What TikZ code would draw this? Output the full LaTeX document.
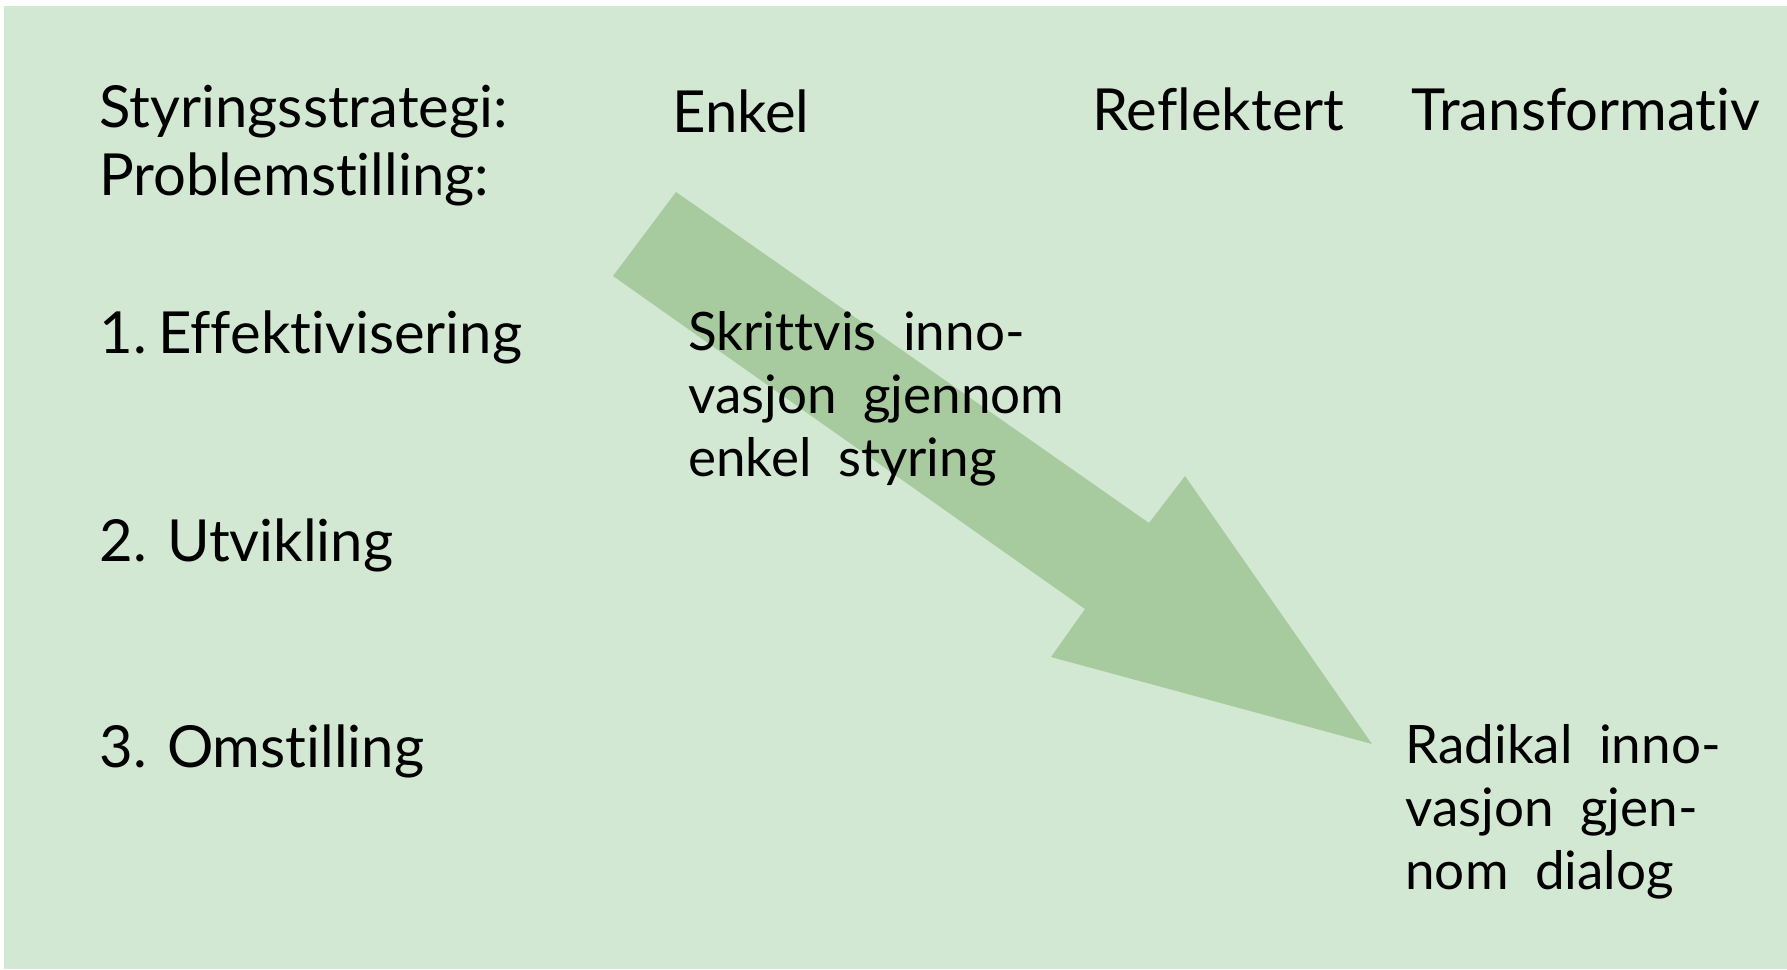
\documentclass[tikz,border=0pt]{standalone}
\usepackage{fontspec}
\setmainfont{Lato}[Ligatures={NoCommon,NoRare,NoDiscretionary}]
\definecolor{bggreen}{RGB}{211,232,211}
\definecolor{arrowgreen}{RGB}{168,202,159}
\newcommand\wsp{\hspace{0.5em}}
\tikzset{
  head/.style={anchor=base west, inner sep=0pt, font=\fontsize{29pt}{34pt}\selectfont},
  body/.style={anchor=base west, inner sep=0pt, align=left,
    font=\fontsize{26.5pt}{31.5pt}\selectfont}
}
\begin{document}
\begin{tikzpicture}[x=0.5pt,y=-0.5pt]
\useasboundingbox (0,0) rectangle (1787,969);
\fill[white] (0,0) rectangle (1787,969);
\fill[bggreen] (4,6) rectangle (1787,969);
% big arrow
\fill[arrowgreen] (676,192) -- (1149,523) -- (1185,476) -- (1372,744)
  -- (1051,657) -- (1085,609) -- (613,276) -- cycle;
% headings
\node[head] (strat) at (99,127) {Styringsstrategi:};
\node[head] (prob) at (99,195) {Problemstilling:};
\node[head] (enkel) at (672,132) {Enkel};
\node[head] (refl) at (1092,130) {Reflektert};
\node[head] (trans) at (1411,130) {Transformativ};
\node[head] (p1) at (99,353) {1.\hspace{0.2em}Effektivisering};
\node[head] (p2) at (99,561) {2.\hspace{0.35em}Utvikling};
\node[head] (p3) at (99,767) {3.\hspace{0.35em}Omstilling};
% cell texts (base anchor = baseline of last line)
\node[body] (skritt) at (688,476) {Skrittvis\wsp inno-\\vasjon\wsp gjennom\\enkel\wsp styring};
\node[body] (radikal) at (1405,889) {Radikal\wsp inno-\\vasjon\wsp gjen-\\nom\wsp dialog};
\end{tikzpicture}
\end{document}
